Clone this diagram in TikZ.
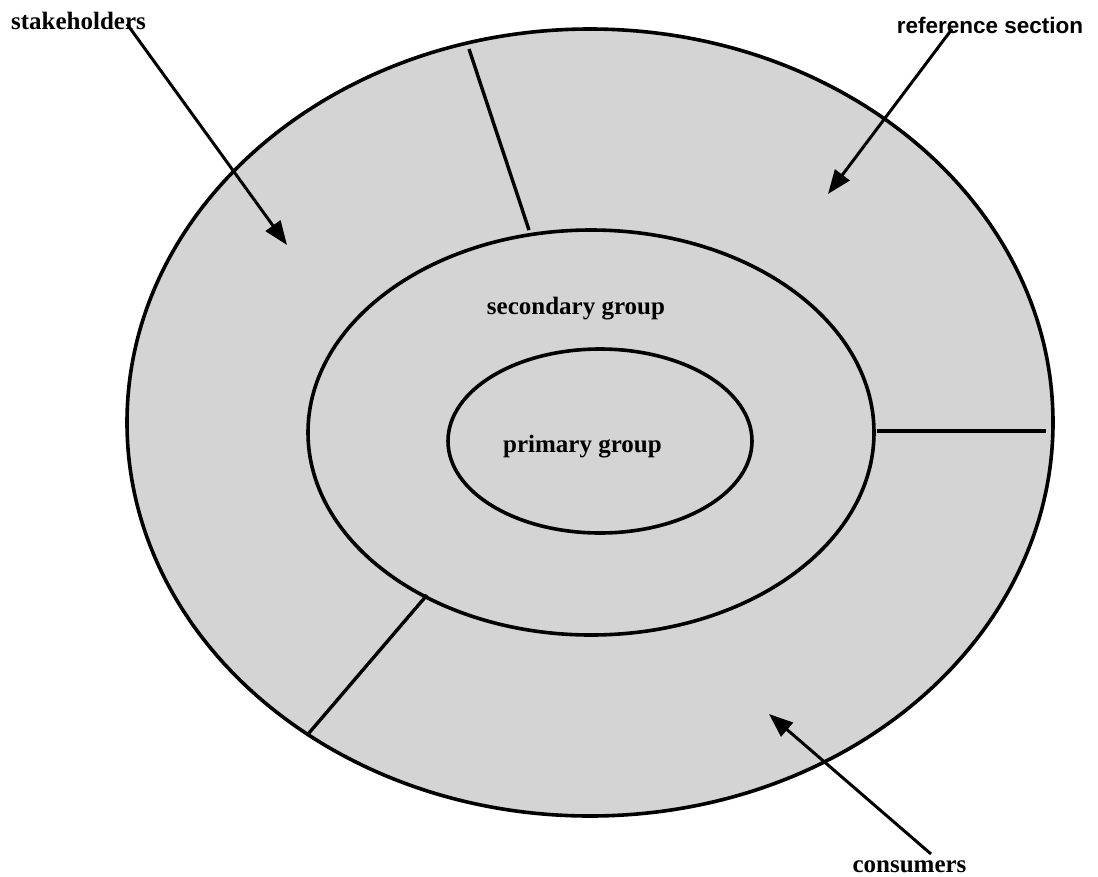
\documentclass[tikz,border=0pt]{standalone}
\usepackage{fontspec}
\setmainfont{Liberation Serif}
\newfontfamily\labelsans{Liberation Sans}
\usetikzlibrary{arrows.meta}
\definecolor{ringfill}{RGB}{212,212,212}
\begin{document}
\begin{tikzpicture}[x=1pt,y=-1pt,
  ring/.style={draw=black, line width=3.6pt},
  divider/.style={draw=black, line width=3.4pt},
  pointer/.style={draw=black, line width=3pt, -{Triangle[length=24pt,width=18pt]}},
  serlabel/.style={font=\fontsize{25}{28}\selectfont\bfseries, inner sep=0pt, anchor=base},
  sanlabel/.style={font=\fontsize{22.5}{26}\selectfont\labelsans\bfseries, inner sep=0pt, anchor=base}]
\useasboundingbox (0,0) rectangle (1098,876);

% centres of the three rings
\coordinate (outerC) at (590,422.5);
\coordinate (midC) at (591,432.5);
\coordinate (innerC) at (600,441);

% shaded area and ring outlines
\fill[ringfill] (outerC) ellipse [x radius=463, y radius=393.5];
\draw[ring] (outerC) ellipse [x radius=463, y radius=393.5];
\draw[ring] (midC) ellipse [x radius=283, y radius=202.5];
\draw[ring] (innerC) ellipse [x radius=152, y radius=92];

% section dividers in the outer ring
\coordinate (d1a) at (469,49);  \coordinate (d1b) at (529,230);
\coordinate (d2a) at (877,431); \coordinate (d2b) at (1046,431);
\coordinate (d3a) at (427,595); \coordinate (d3b) at (309,733);
\draw[divider] (d1a) -- (d1b);
\draw[divider] (d2a) -- (d2b);
\draw[divider] (d3a) -- (d3b);

% labels
\node[serlabel] (stake) at (78.5,29) {stakeholders};
\node[sanlabel] (refsec) at (990,33) {reference section};
\node[serlabel] (cons) at (909.5,872) {consumers};
\node[serlabel] (secgrp) at (576,314) {secondary group};
\node[serlabel] (prigrp) at (582.5,452) {primary group};

% pointers
\coordinate (stakeS) at (127,24);  \coordinate (stakeT) at (287,245);
\coordinate (refS) at (952,29);    \coordinate (refT) at (828,194);
\coordinate (consS) at (931,854);  \coordinate (consT) at (769,714);
\draw[pointer] (stakeS) -- (stakeT);
\draw[pointer] (refS) -- (refT);
\draw[pointer] (consS) -- (consT);
\end{tikzpicture}
\end{document}
